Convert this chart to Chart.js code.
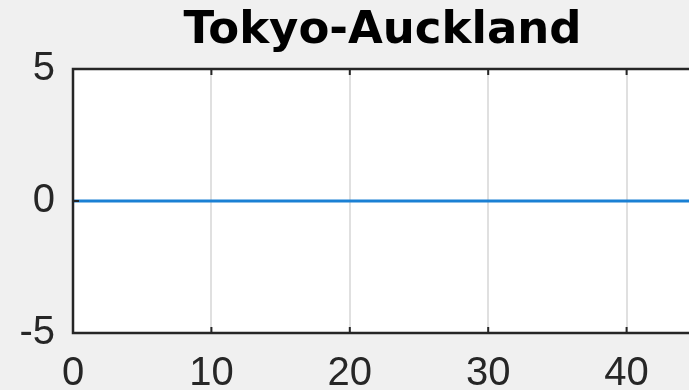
<!DOCTYPE html>
<html>
<head>
<meta charset="utf-8">
<script src="https://cdn.jsdelivr.net/npm/chart.js@4"></script>
<style>
  html, body { margin: 0; padding: 0; background: #f0f0f0; overflow: hidden; }
  #wrap { width: 770px; height: 390px; }
</style>
</head>
<body>
<div id="wrap"><canvas id="chart"></canvas></div>
<script>
const routeName = 'Tokyo-Auckland'
const hours = [0, 10, 20, 30, 40, 50]
const delay = [0, 0, 0, 0, 0, 0]
const xTicks = [0, 10, 20, 30, 40, 50]
const yTicks = [-5, 0, 5]

const AXIS = '#262626'
const TICK_FONT = "'Liberation Sans', Arial, sans-serif"
const TITLE_FONT = "'DejaVu Sans', sans-serif"

// white plot box, closed frame and inward tick marks like a matlab axes
const axesBox = {
  id: 'axesBox',
  beforeDraw(chart) {
    const { ctx, chartArea: a } = chart
    ctx.save()
    ctx.fillStyle = '#ffffff'
    ctx.fillRect(a.left, a.top, a.right - a.left, a.bottom - a.top)
    ctx.restore()
  },
  afterDraw(chart) {
    const { ctx, chartArea: a, scales } = chart
    ctx.save()
    ctx.strokeStyle = AXIS
    ctx.lineWidth = 2.5
    ctx.beginPath()
    ctx.moveTo(a.left, a.top)
    ctx.lineTo(a.right, a.top)
    ctx.lineTo(a.right, a.bottom)
    ctx.lineTo(a.left, a.bottom)
    ctx.closePath()
    ctx.stroke()
    ctx.lineWidth = 2
    ctx.beginPath()
    for (const v of xTicks) {
      const px = scales.x.getPixelForValue(v)
      ctx.moveTo(px, a.bottom); ctx.lineTo(px, a.bottom - 6)
      ctx.moveTo(px, a.top); ctx.lineTo(px, a.top + 6)
    }
    for (const v of yTicks) {
      const py = scales.y.getPixelForValue(v)
      ctx.moveTo(a.left, py); ctx.lineTo(a.left + 6, py)
    }
    ctx.stroke()
    ctx.restore()
  }
}

new Chart(document.getElementById('chart'), {
  type: 'line',
  data: {
    datasets: [{
      data: hours.map((h, i) => ({ x: h, y: delay[i] })),
      borderColor: '#1a80d4',
      borderWidth: 3,
      pointRadius: 0,
      tension: 0
    }]
  },
  options: {
    responsive: true,
    maintainAspectRatio: false,
    animation: false,
    layout: { padding: { right: 5 } },
    plugins: {
      legend: { display: false },
      tooltip: { enabled: false },
      title: {
        display: true,
        text: routeName,
        color: '#000000',
        font: { family: TITLE_FONT, size: 45, weight: 'bold', lineHeight: 1.2 },
        padding: { top: 4, bottom: 11 }
      }
    },
    scales: {
      x: {
        type: 'linear',
        min: 0,
        max: 50,
        afterFit(scale) {
          scale.height = 57
          // let the last label hang past the edge instead of shrinking the plot
          scale.paddingLeft = 0
          scale.paddingRight = 0
        },
        ticks: {
          stepSize: 10,
          color: AXIS,
          padding: 17,
          maxRotation: 0,
          font: { family: TICK_FONT, size: 40 }
        },
        grid: { color: '#e0e0e0', lineWidth: 2, drawTicks: false },
        border: { display: false }
      },
      y: {
        min: -5,
        max: 5,
        afterFit(scale) { scale.width = 73 },
        ticks: {
          stepSize: 5,
          color: AXIS,
          padding: 18,
          font: { family: TICK_FONT, size: 40 }
        },
        grid: { color: '#e0e0e0', lineWidth: 2, drawTicks: false },
        border: { display: false }
      }
    }
  },
  plugins: [axesBox]
})
</script>
</body>
</html>
